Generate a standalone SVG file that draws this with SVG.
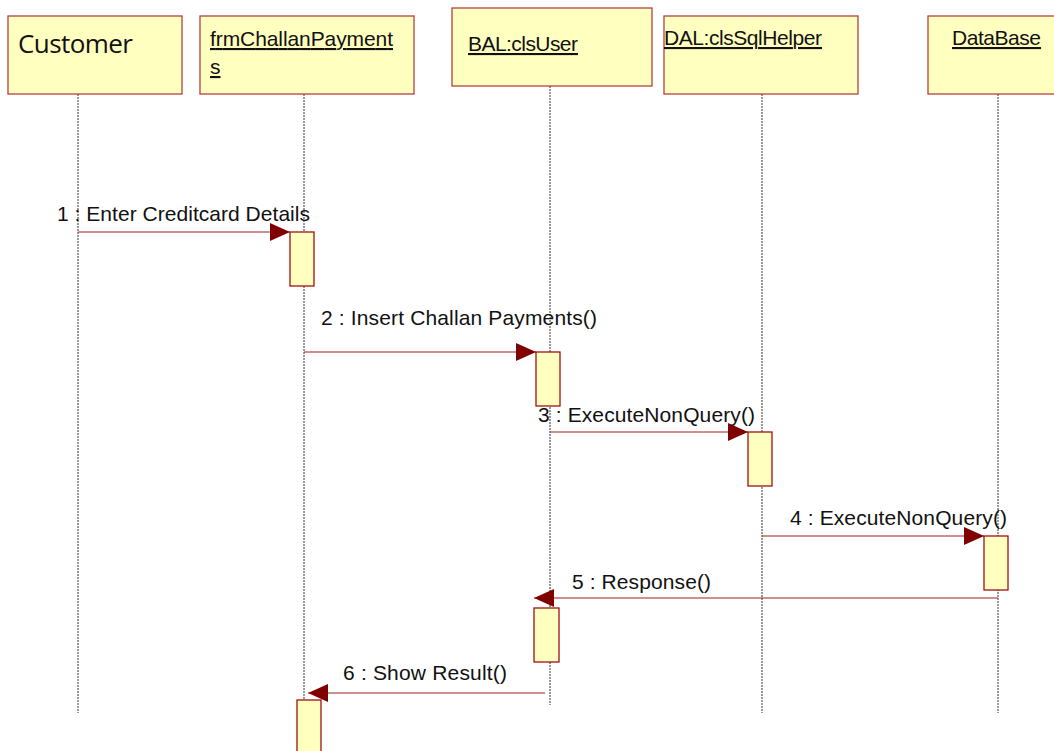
<svg xmlns="http://www.w3.org/2000/svg" width="1054" height="751" viewBox="0 0 1054 751">
<style>
.obj{fill:#ffffc0;stroke:#b5413a;stroke-width:1.3}
.act{fill:#ffffc0;stroke:#a01010;stroke-width:1.3}
.life{stroke:#333;stroke-width:1;stroke-dasharray:2,1;fill:none}
.msg{stroke:#a02020;stroke-width:1.2;fill:none}
.lbl{font-family:"Liberation Sans",Arial,sans-serif;font-size:21px;fill:#111}
.hdr{font-family:"Liberation Sans",Arial,sans-serif;font-size:21px;fill:#111;text-decoration:underline}
.cust{font-family:"Open Sans","Liberation Sans",sans-serif;font-size:26px;fill:#111}
</style>
<defs>
<marker id="ah" viewBox="0 0 20 18" refX="20" refY="9" markerWidth="20" markerHeight="18" markerUnits="userSpaceOnUse" orient="auto">
<path d="M0,0 L20,9 L0,18 Z" fill="#800000"/>
</marker>
</defs>
<rect width="1054" height="751" fill="#ffffff"/>
<g id="lifelines">
<line class="life" x1="78" y1="94" x2="78" y2="713"/>
<line class="life" x1="304" y1="94" x2="304" y2="700"/>
<line class="life" x1="550" y1="86" x2="550" y2="705"/>
<line class="life" x1="762" y1="94" x2="762" y2="713"/>
<line class="life" x1="998" y1="94" x2="998" y2="713"/>
</g>
<g id="customer">
<rect class="obj" x="8" y="16" width="174" height="78"/>
<text class="cust" x="18" y="53" textLength="115">Customer</text>
</g>
<g id="frmChallanPayments">
<rect class="obj" x="200" y="16" width="214" height="78"/>
<text class="hdr" x="210" y="46" textLength="183">frmChallanPayment</text>
<text class="hdr" x="210" y="74">s</text>
</g>
<g id="balClsUser">
<rect class="obj" x="452" y="8" width="200" height="78"/>
<text class="hdr" x="468" y="51" textLength="110">BAL:clsUser</text>
</g>
<g id="dalClsSqlHelper">
<rect class="obj" x="664" y="16" width="194" height="78"/>
<text class="hdr" x="664" y="45" textLength="158">DAL:clsSqlHelper</text>
</g>
<g id="database">
<rect class="obj" x="928" y="16" width="130" height="78"/>
<text class="hdr" x="952" y="45" textLength="89">DataBase</text>
</g>
<g id="activations">
<rect class="act" x="290" y="232" width="24" height="54"/>
<rect class="act" x="536" y="352" width="24" height="54"/>
<rect class="act" x="748" y="432" width="24" height="54"/>
<rect class="act" x="984" y="536" width="24" height="54"/>
<rect class="act" x="534" y="608" width="25" height="54"/>
<rect class="act" x="297" y="700" width="24" height="60"/>
</g>
<g id="connectors">
<line class="msg" x1="78" y1="232" x2="290" y2="232" marker-end="url(#ah)"/>
<line class="msg" x1="304" y1="352" x2="536" y2="352" marker-end="url(#ah)"/>
<line class="msg" x1="550" y1="432" x2="748" y2="432" marker-end="url(#ah)"/>
<line class="msg" x1="762" y1="536" x2="984" y2="536" marker-end="url(#ah)"/>
<line class="msg" x1="998" y1="598" x2="534" y2="598" marker-end="url(#ah)"/>
<line class="msg" x1="545" y1="693" x2="308" y2="693" marker-end="url(#ah)"/>
</g>
<g id="labels">
<text class="lbl" x="57" y="221" textLength="253">1 : Enter Creditcard Details</text>
<text class="lbl" x="321" y="325" textLength="276">2 : Insert Challan Payments()</text>
<text class="lbl" x="538" y="422" textLength="217">3 : ExecuteNonQuery()</text>
<text class="lbl" x="790" y="525" textLength="217">4 : ExecuteNonQuery()</text>
<text class="lbl" x="572" y="589" textLength="139">5 : Response()</text>
<text class="lbl" x="343" y="680" textLength="164">6 : Show Result()</text>
</g>
</svg>
